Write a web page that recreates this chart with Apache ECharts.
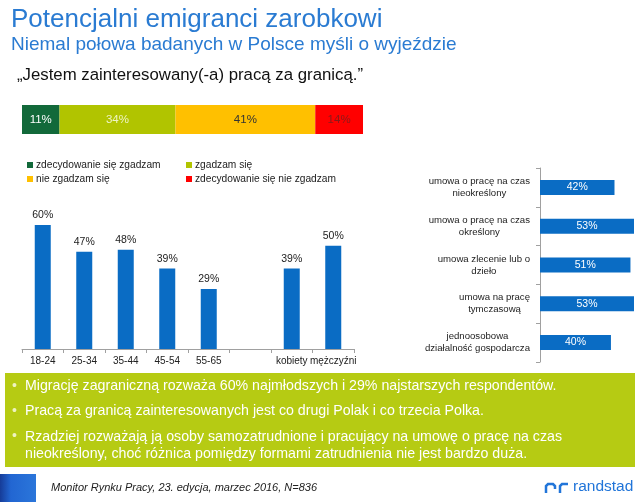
<!DOCTYPE html>
<html><head><meta charset="utf-8">
<script src="https://cdn.jsdelivr.net/npm/echarts@6/dist/echarts.min.js"></script>
<style>html,body{margin:0;padding:0;background:#fff}#c{width:640px;height:502px}</style>
</head><body><div id="c"></div>
<script>
// Stacked bar (agreement)
const agreeNames = ['zdecydowanie się zgadzam', 'zgadzam się', 'nie zgadzam się', 'zdecydowanie się nie zgadzam'];
const agreeValues = [11, 34, 41, 14];
// Age / gender chart
const groupCats = ['18-24', '25-34', '35-44', '45-54', '55-65', '', 'kobiety', 'mężczyźni'];
const groupValues = [60, 47, 48, 39, 29, null, 39, 50];
// Employment form chart
const formCats = ['umowa o pracę na czas\nnieokreślony', 'umowa o pracę na czas\nokreślony', 'umowa zlecenie lub o\ndzieło', 'umowa na pracę\ntymczasową', 'jednoosobowa\ndziałalność gospodarcza'];
const formValues = [42, 53, 51, 53, 40];

const titleText = 'Potencjalni emigranci zarobkowi';
const subtitleText = 'Niemal połowa badanych w Polsce myśli o wyjeździe';
const quoteText = '„Jestem zainteresowany(-a) pracą za granicą.”';
const bullets = [
  'Migrację zagraniczną rozważa 60% najmłodszych i 29% najstarszych respondentów.',
  'Pracą za granicą zainteresowanych jest co drugi Polak i co trzecia Polka.',
  'Rzadziej rozważają ją osoby samozatrudnione i pracujący na umowę o pracę na czas\nnieokreślony, choć różnica pomiędzy formami zatrudnienia nie jest bardzo duża.'
];
const footerText = 'Monitor Rynku Pracy, 23. edycja, marzec 2016, N=836';

const SF = '"Liberation Sans", Arial, sans-serif';
const agreeColors = ['#12693a', '#b1c400', '#ffc000', '#ff0000'];
const agreeLabelColors = ['#ffffff', '#eef4c4', '#333333', '#8a1a1a'];
const blue = '#0a6cc4';

const chart = echarts.init(document.getElementById('c'), null, {renderer: 'canvas'});

const legendPos = [[27, 160], [186, 160], [27, 174], [186, 174]];

const stackSeries = agreeNames.map((n, i) => ({
  name: n, type: 'bar', stack: 'a', xAxisIndex: 0, yAxisIndex: 0,
  barWidth: 29, data: [agreeValues[i]],
  itemStyle: {color: agreeColors[i]},
  label: {show: true, position: 'inside', formatter: '{c}%', color: agreeLabelColors[i], fontFamily: SF, fontSize: 11.5}
}));

const option = {
  animation: false,
  textStyle: {fontFamily: SF},
  legend: agreeNames.map((n, i) => ({
    data: [n], left: legendPos[i][0], top: legendPos[i][1], padding: 0,
    icon: 'rect', itemWidth: 6, itemHeight: 6, itemGap: 3,
    textStyle: {fontFamily: SF, fontSize: 10.2, color: '#222', padding: [0, 0, 0, -2]},
    selectedMode: false
  })),
  grid: [
    {left: 22, width: 341, top: 105, height: 29},
    {left: 22, width: 332, top: 225, height: 124},
    {left: 540, right: 6, top: 168, height: 194}
  ],
  xAxis: [
    {gridIndex: 0, type: 'value', min: 0, max: 100, show: false},
    {gridIndex: 1, type: 'category', data: groupCats,
      axisLine: {lineStyle: {color: '#a0a0a0'}},
      axisTick: {show: true, length: 4, lineStyle: {color: '#a0a0a0'}},
      axisLabel: {color: '#222', fontFamily: SF, fontSize: 10, margin: 7, interval: 0}},
    {gridIndex: 2, type: 'value', min: 0, max: 53, show: false}
  ],
  yAxis: [
    {gridIndex: 0, type: 'category', data: [''], show: false},
    {gridIndex: 1, type: 'value', min: 0, max: 60, show: false},
    {gridIndex: 2, type: 'category', data: formCats, inverse: true,
      axisLine: {lineStyle: {color: '#a0a0a0'}},
      axisTick: {show: true, length: 4, lineStyle: {color: '#a0a0a0'}},
      axisLabel: {color: '#222', fontFamily: SF, fontSize: 9.6, margin: 10, align: 'right',
        formatter: v => v.split('\n').map(s => '{c|' + s + '}').join('\n'),
        rich: {c: {align: 'center', fontFamily: SF, fontSize: 9.6, color: '#222', lineHeight: 12}}}
    }
  ],
  series: stackSeries.concat([
    {type: 'bar', xAxisIndex: 1, yAxisIndex: 1, data: groupValues, barWidth: 16,
      itemStyle: {color: blue},
      label: {show: true, position: 'top', formatter: '{c}%', color: '#222', fontFamily: SF, fontSize: 10.5, distance: 4}},
    {type: 'bar', xAxisIndex: 2, yAxisIndex: 2, data: formValues, barWidth: 15,
      itemStyle: {color: blue},
      label: {show: true, position: 'inside', formatter: '{c}%', color: '#fff', fontFamily: SF, fontSize: 10.5}}
  ]),
  graphic: [
    {type: 'text', left: 11, top: 7, style: {text: titleText, font: '26px ' + SF, fill: '#2a7bd2'}},
    {type: 'text', left: 11, top: 35, style: {text: subtitleText, font: '19px ' + SF, fill: '#2a7bd2'}},
    {type: 'text', left: 17, top: 67, style: {text: quoteText, font: '16.8px ' + SF, fill: '#111'}},
    {type: 'rect', shape: {x: 5, y: 373, width: 630, height: 94}, style: {fill: '#b6cb13'}},
    {type: 'text', left: 12, top: 379, style: {text: '•', font: '14px ' + SF, fill: '#eef3c0'}},
    {type: 'text', left: 25, top: 379, style: {text: bullets[0], font: '14.2px ' + SF, fill: '#fff'}},
    {type: 'text', left: 12, top: 404, style: {text: '•', font: '14px ' + SF, fill: '#eef3c0'}},
    {type: 'text', left: 25, top: 404, style: {text: bullets[1], font: '14.2px ' + SF, fill: '#fff'}},
    {type: 'text', left: 12, top: 429, style: {text: '•', font: '14px ' + SF, fill: '#eef3c0'}},
    {type: 'text', left: 25, top: 429, style: {text: bullets[2], font: '14.2px ' + SF, fill: '#fff', lineHeight: 17}},
    {type: 'rect', shape: {x: 0, y: 474, width: 36, height: 28},
      style: {fill: new echarts.graphic.LinearGradient(0, 0, 1, 0, [{offset: 0, color: '#163c98'}, {offset: 0.3, color: '#2266d2'}, {offset: 1, color: '#2b76da'}])}},
    {type: 'text', left: 51, top: 482, style: {text: footerText, font: 'italic 11px ' + SF, fill: '#222'}},
    {type: 'text', left: 573, top: 479, style: {text: 'randstad', font: '15.5px ' + SF, fill: '#2175d9'}},
    {type: 'polyline', shape: {points: [[546, 493], [546, 486], [548, 484], [553, 484], [555, 486], [555, 489]]},
      style: {stroke: '#2175d9', lineWidth: 2.5, fill: null}},
    {type: 'polyline', shape: {points: [[560, 493], [560, 486], [562, 484], [568, 484]]},
      style: {stroke: '#2175d9', lineWidth: 2.5, fill: null}}
  ]
};
chart.setOption(option);
</script>
</body></html>
